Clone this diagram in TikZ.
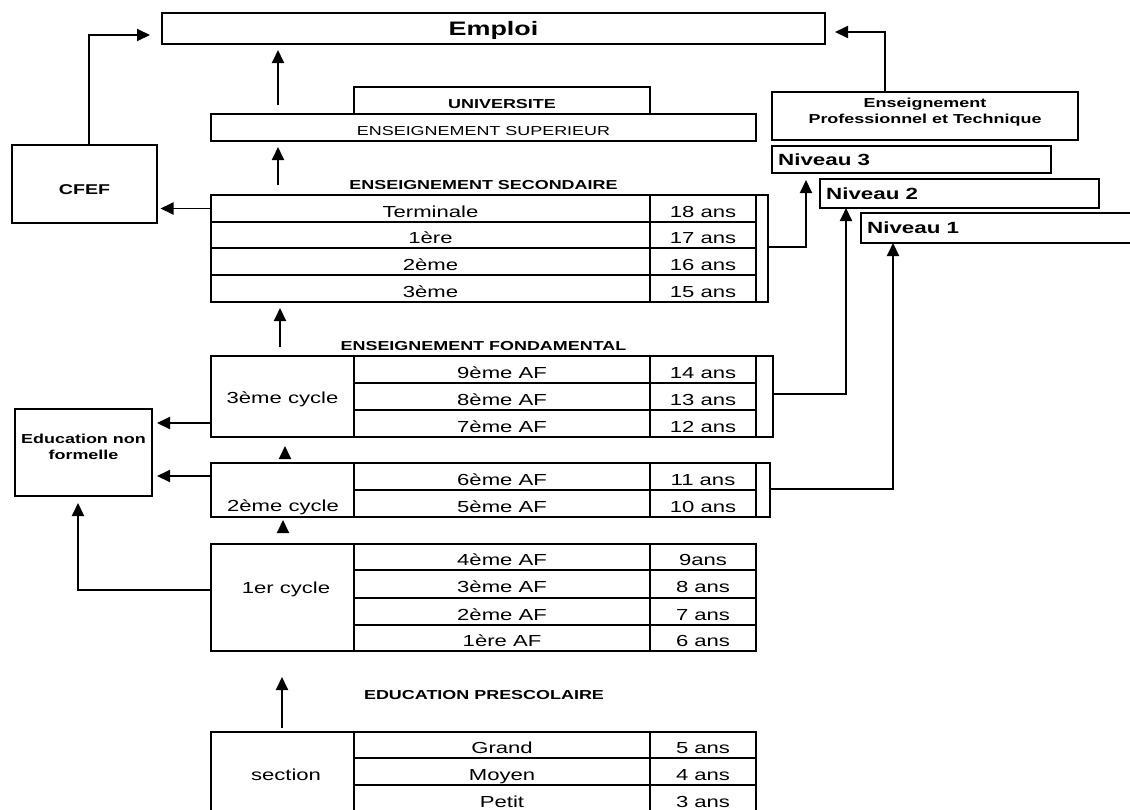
\documentclass[tikz,border=0pt]{standalone}
\usepackage{fontspec}
\setmainfont{Liberation Sans}[FakeStretch=1.38]
\usetikzlibrary{arrows.meta}
\tikzset{
  pbox/.style n args={4}{draw, line width=1.9pt, inner sep=0pt, outer sep=0pt,
    anchor=north west, minimum width={(#3)-(#1)}, minimum height={(#4)-(#2)}, at={(#1,#2)}},
  brk/.style={line width=1.3pt},
  rowt/.style={font=\fontsize{16}{19}\selectfont, text height=17.5pt, text depth=0pt},
  hd/.style={font=\bfseries\fontsize{13}{15}\selectfont, inner sep=0pt},
  lbl/.style={inner sep=0pt, text depth=0pt},
  arr/.style={line width=1.9pt, -{Triangle[width=12pt,length=13pt]}},
}
\begin{document}
\begin{tikzpicture}[x=1pt,y=-1pt]
\useasboundingbox (0,0) rectangle (1130,809);
% top boxes
\node[pbox={162}{13}{825}{44}, font=\bfseries\fontsize{19.5}{23}\selectfont, text depth=0pt] (emploi) {Emploi};
\node[pbox={354}{87}{650}{114}, font=\bfseries\fontsize{13}{15}\selectfont, text height=16pt, text depth=0pt] (univ) {UNIVERSITE};
\node[pbox={211}{114}{756}{141}, font=\fontsize{13}{15}\selectfont, text height=16pt, text depth=0pt] (sup) {ENSEIGNEMENT SUPERIEUR};
\node[pbox={772}{92}{1078}{140}] (ep) {};
\node[lbl, align=center, font=\bfseries\fontsize{13}{16}\selectfont] (eptxt) at (925,111) {Enseignement\\Professionnel et Technique};
\node[pbox={772}{146}{1051}{173}] (n3) {};
\node[pbox={820}{179}{1099}{208}] (n2) {};
\node[pbox={861}{213}{1140}{243}] (n1) {};
\node[lbl, anchor=west, font=\bfseries\fontsize{16.2}{19}\selectfont] (n3t) at (778,160) {Niveau 3};
\node[lbl, anchor=west, font=\bfseries\fontsize{16.2}{19}\selectfont] (n2t) at (826,193.5) {Niveau 2};
\node[lbl, anchor=west, font=\bfseries\fontsize{16.2}{19}\selectfont] (n1t) at (867,228) {Niveau 1};
% side boxes
\node[pbox={12}{145}{157}{223}, font=\bfseries\fontsize{14.2}{17}\selectfont, text height=20pt, text depth=0pt] (cfef) {CFEF};
\node[pbox={15}{409}{152}{496}] (enf) {};
\node[lbl, align=center, font=\bfseries\fontsize{13}{16}\selectfont] (enftxt) at (83.5,447) {Education non\\formelle};
% secondaire
\node[hd] (hsec) at (483.5,185) {ENSEIGNEMENT SECONDAIRE};
\node[pbox={211}{195}{650}{222}, rowt] (s1) {Terminale};
\node[pbox={650}{195}{756}{222}, rowt] (a18) {18 ans};
\node[pbox={211}{222}{650}{248}, rowt] (s2) {1ère};
\node[pbox={650}{222}{756}{248}, rowt] (a17) {17 ans};
\node[pbox={211}{248}{650}{275}, rowt] (s3) {2ème};
\node[pbox={650}{248}{756}{275}, rowt] (a16) {16 ans};
\node[pbox={211}{275}{650}{302}, rowt] (s4) {3ème};
\node[pbox={650}{275}{756}{302}, rowt] (a15) {15 ans};
\node[pbox={756}{195}{768}{302}, brk] (bs) {};
% fondamental
\node[hd] (hfond) at (483.5,346) {ENSEIGNEMENT FONDAMENTAL};
\node[pbox={211}{356}{354}{437}, rowt, text height=14.5pt] (c3) {3ème cycle};
\node[pbox={354}{356}{650}{383}, rowt] (f9) {9ème AF};
\node[pbox={650}{356}{756}{383}, rowt] (a14) {14 ans};
\node[pbox={354}{383}{650}{410}, rowt] (f8) {8ème AF};
\node[pbox={650}{383}{756}{410}, rowt] (a13) {13 ans};
\node[pbox={354}{410}{650}{437}, rowt] (f7) {7ème AF};
\node[pbox={650}{410}{756}{437}, rowt] (a12) {12 ans};
\node[pbox={756}{356}{773}{437}, brk] (b3) {};
\node[pbox={211}{463}{354}{517}] (c2) {};
\node[lbl, font=\fontsize{16}{19}\selectfont] (c2t) at (283,506) {2ème cycle};
\node[pbox={354}{463}{650}{490}, rowt] (f6) {6ème AF};
\node[pbox={650}{463}{756}{490}, rowt] (a11) {11 ans};
\node[pbox={354}{490}{650}{517}, rowt] (f5) {5ème AF};
\node[pbox={650}{490}{756}{517}, rowt] (a10) {10 ans};
\node[pbox={756}{463}{770}{517}, brk] (b2) {};
\node[pbox={211}{544}{354}{651}] (c1) {};
\node[lbl, font=\fontsize{16}{19}\selectfont] (c1t) at (286,588) {1er cycle};
\node[pbox={354}{544}{650}{570}, rowt] (f4) {4ème AF};
\node[pbox={650}{544}{756}{570}, rowt] (a9) {9ans};
\node[pbox={354}{570}{650}{598}, rowt] (f3) {3ème AF};
\node[pbox={650}{570}{756}{598}, rowt] (a8) {8 ans};
\node[pbox={354}{598}{650}{625}, rowt] (f2) {2ème AF};
\node[pbox={650}{598}{756}{625}, rowt] (a7) {7 ans};
\node[pbox={354}{625}{650}{651}, rowt] (f1) {1ère AF};
\node[pbox={650}{625}{756}{651}, rowt] (a6) {6 ans};
% prescolaire
\node[hd] (hpre) at (484,695) {EDUCATION PRESCOLAIRE};
\node[pbox={211}{732}{354}{812}] (pre) {};
\node[lbl, font=\fontsize{16}{19}\selectfont] (pret) at (286,775) {section};
\node[pbox={354}{732}{650}{758}, rowt] (pg) {Grand};
\node[pbox={650}{732}{756}{758}, rowt] (a5) {5 ans};
\node[pbox={354}{758}{650}{785}, rowt] (pm) {Moyen};
\node[pbox={650}{758}{756}{785}, rowt] (a4) {4 ans};
\node[pbox={354}{785}{650}{812}, rowt] (pp) {Petit};
\node[pbox={650}{785}{756}{812}, rowt] (a3) {3 ans};
% vertical arrows
\draw[arr] ([xshift=67pt,yshift=9pt]sup.north west) -- ([xshift=67pt,yshift=-6pt]emploi.south west -| sup.north west);
\draw[arr] ([xshift=67pt,yshift=10pt]s1.north west) -- ([xshift=67pt,yshift=-6pt]sup.south west);
\draw[arr] ([xshift=69pt,yshift=9pt]c3.north west) -- ([xshift=69pt,yshift=-6pt]s4.south west);
\draw[arr] ([xshift=74pt,yshift=8pt]c2.north west) -- ([xshift=74pt,yshift=-9pt]c3.south west);
\draw[arr] ([xshift=72pt,yshift=12pt]c1.north west) -- ([xshift=72pt,yshift=-3pt]c2.south west);
\draw[arr] ([xshift=71pt,yshift=4pt]pre.north west) -- ([xshift=71pt,yshift=-26pt]c1.south west);
% left side
\draw[arr, shorten >=3.5pt] (s1.west) -- (s1.west -| cfef.east);
\draw[arr] ([xshift=4.5pt]cfef.north) |- ([xshift=-12pt,yshift=-6.5pt]emploi.west);
\coordinate (p3) at ([yshift=14pt]c3.south west);
\coordinate (p2) at ([yshift=-13pt]c2.north west);
\coordinate (p1) at ([yshift=-46pt]c1.north west);
\draw[arr, shorten >=5pt] (p3) -- (p3 -| enf.east);
\draw[arr, shorten >=5pt] (p2) -- (p2 -| enf.east);
\draw[arr, shorten >=7pt] (p1) -| ([xshift=-5.5pt]enf.south);
% right side
\draw[arr, shorten >=7pt] ([yshift=1.5pt]bs.east) -| ([xshift=34pt]n3.south west);
\draw[arr] ([yshift=2.5pt]b3.east) -| ([xshift=26pt]n2.south west);
\draw[arr] ([yshift=1pt]b2.east) -| ([xshift=32pt]n1.south west);
\draw[arr, shorten >=10pt] ([xshift=-40pt]ep.north) |- ([yshift=-3.5pt]emploi.east);
\end{tikzpicture}
\end{document}
